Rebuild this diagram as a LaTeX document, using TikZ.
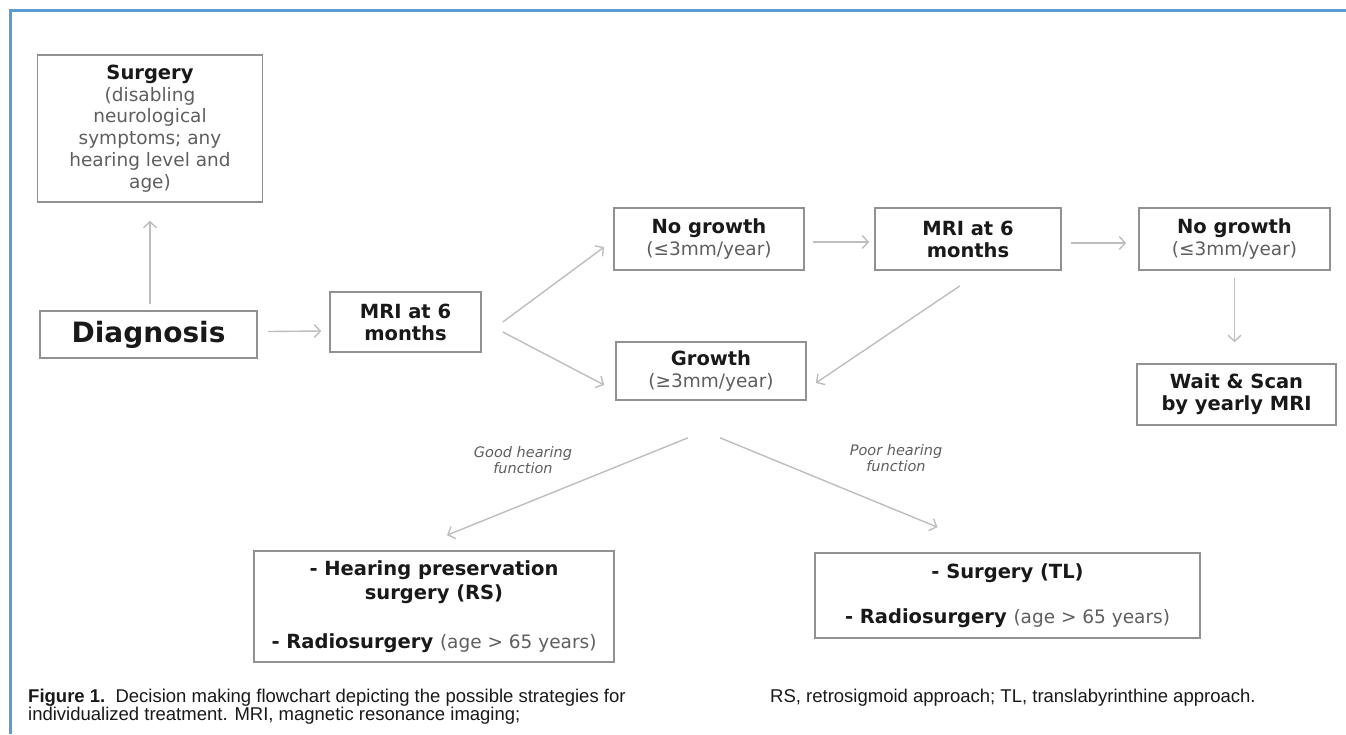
\documentclass[tikz,border=0pt]{standalone}
\usepackage{fontspec}
\setmainfont{DejaVu Sans}
\newfontfamily\capfont{Liberation Sans}
\usetikzlibrary{arrows.meta}
\definecolor{frameblue}{RGB}{91,155,213}
\definecolor{boxgray}{RGB}{145,145,145}
\definecolor{arrgray}{RGB}{190,190,190}
\definecolor{txtgray}{RGB}{95,95,95}
\definecolor{txtdark}{RGB}{25,25,25}
\newcommand\lighttext[1]{{\mdseries\color{txtgray}\fontsize{18.5}{22}\selectfont #1}}

\begin{document}
\begin{tikzpicture}[x=1pt, y=-1pt,
    box/.style={draw=boxgray, line width=1.6pt, fill=white, align=center, inner sep=0pt,
        text=txtdark, font=\fontsize{19.5}{22}\selectfont\bfseries},
    arr/.style={draw=arrgray, line width=1.4pt, -{Straight Barb[length=6pt, width=13pt]}},
    hint/.style={font=\fontsize{14.5}{16.5}\selectfont\itshape, text=txtgray, align=center},
    captext/.style={font=\capfont\fontsize{18.5}{18.5}\selectfont, text=txtdark, align=left, inner sep=0pt}]
    \useasboundingbox[fill=white] (0,0) rectangle (1346,734);
    \draw[frameblue, line width=3pt] (10,734) -- (10,10) -- (1346,10);

    % boxes
    \node[box, minimum width=225pt, minimum height=147pt, font=\fontsize{18.5}{21.7}\selectfont, text=txtgray] (surg) at (150,128.5)
        {{\bfseries\color{txtdark}\fontsize{19.5}{21.7}\selectfont Surgery}\\ (disabling\\ neurological\\ symptoms; any\\ hearing level and\\ age)};
    \node[box, minimum width=217pt, minimum height=47pt, font=\fontsize{28}{32}\selectfont\bfseries] (diag) at (148.5,334.5) {Diagnosis};
    \node[box, minimum width=151pt, minimum height=60pt] (mri1) at (405.5,322) {MRI at 6\\ months};
    \node[box, minimum width=190pt, minimum height=62pt] (ng1) at (709,239) {No growth\\ \lighttext{(≤3mm/year)}};
    \node[box, minimum width=190pt, minimum height=58pt] (growth) at (711,371) {Growth\\ \lighttext{(≥3mm/year)}};
    \node[box, minimum width=186pt, minimum height=62pt] (mri2) at (968,239) {MRI at 6\\ months};
    \node[box, minimum width=191pt, minimum height=62pt] (ng2) at (1234.5,239) {No growth\\ \lighttext{(≤3mm/year)}};
    \node[box, minimum width=199pt, minimum height=61pt] (wait) at (1236.5,394.5) {Wait \& Scan\\ by yearly MRI};
    \node[box, minimum width=360pt, minimum height=111pt, font=\fontsize{19.5}{24.5}\selectfont\bfseries] (hp) at (434,606.5)
        {- Hearing preservation\\ surgery (RS)\\[24.5pt] - Radiosurgery \lighttext{(age > 65 years)}};
    \node[box, minimum width=385pt, minimum height=85pt, font=\fontsize{19.5}{24.5}\selectfont\bfseries] (tl) at (1007.5,595.5)
        {- Surgery (TL)\\[20pt] - Radiosurgery \lighttext{(age > 65 years)}};

    % connectors
    \draw[arr] ([yshift=6pt]surg.south |- diag.north) -- ([yshift=-18pt]surg.south);
    \draw[arr] ([xshift=10pt,yshift=3pt]diag.east) -- ([xshift=-8pt,yshift=-9pt]mri1.west);
    \draw[arr] ([xshift=21pt]mri1.east) -- ([xshift=-9pt,yshift=-8pt]ng1.west);
    \draw[arr] ([xshift=21pt,yshift=-10pt]mri1.east) -- ([xshift=-11pt,yshift=-14pt]growth.west);
    \draw[arr] ([xshift=8pt,yshift=-3pt]ng1.east) -- ([xshift=-5pt,yshift=-3pt]mri2.west);
    \draw[arr] ([xshift=-8pt,yshift=-15pt]mri2.south) -- ([xshift=9pt,yshift=-12pt]growth.east);
    \draw[arr] ([xshift=9pt,yshift=-4pt]mri2.east) -- ([xshift=-12pt,yshift=-4pt]ng2.west);
    \draw[arr] ([yshift=-7pt]ng2.south) -- ([yshift=21pt]ng2.south |- wait.north);
    \draw[arr] ([xshift=-23pt,yshift=-37pt]growth.south) -- ([xshift=13pt,yshift=15pt]hp.north);
    \draw[arr] ([xshift=9pt,yshift=-37pt]growth.south) -- ([xshift=-70pt,yshift=25pt]tl.north);

    % branch labels
    \node[hint] (good) at (523,460) {Good hearing\\ function};
    \node[hint] (poor) at (896,458) {Poor hearing\\ function};

    % caption
    \node[captext, anchor=north west] (capl) at (28,688.5)
        {{\bfseries Figure 1.}\ \ Decision making flowchart depicting the possible strategies for\\ individualized treatment. MRI, magnetic resonance imaging;};
    \node[captext, anchor=north west] (capr) at (770,688.5) {RS, retrosigmoid approach; TL, translabyrinthine approach.};
\end{tikzpicture}
\end{document}
